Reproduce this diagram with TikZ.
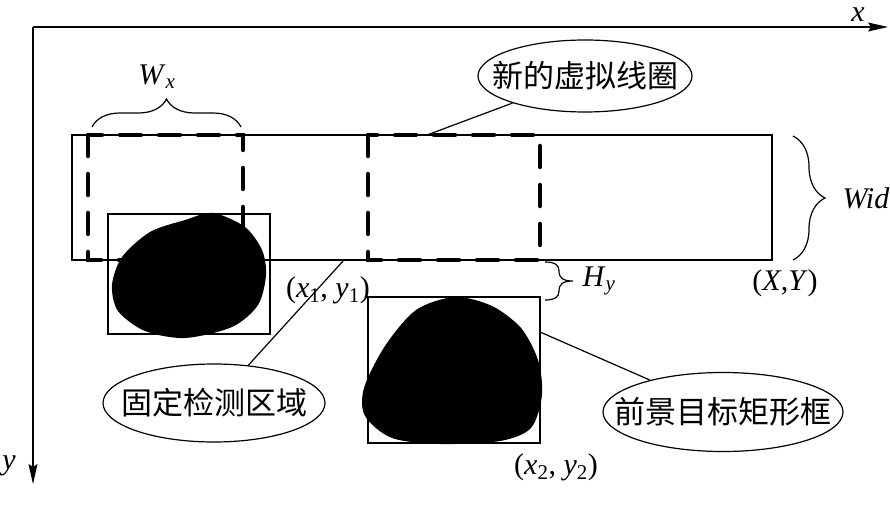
\documentclass[tikz,border=0pt]{standalone}
\usepackage{fontspec}
\setmainfont{Liberation Serif}
\newfontfamily\cjk{Noto Sans CJK SC}
\usetikzlibrary{arrows.meta,shapes.geometric,decorations.pathreplacing}
\tikzset{
    coil/.style={line width=4.5pt, line cap=round, dash pattern=on 21pt off 18pt},
    callout/.style={ellipse, draw, inner sep=0pt, minimum height=#1, font=\cjk\fontsize{31}{34}\selectfont},
    curly/.style={decorate, decoration={brace, amplitude=#1}},
    axis/.style={-{Stealth[length=20pt, width=9pt, inset=3pt]}}
}
\begin{document}
\begin{tikzpicture}[x=1pt, y=-1pt, line width=1.2pt, every node/.style={font=\fontsize{30}{34}\selectfont}]
        \useasboundingbox (0,0) rectangle (890,510);
        \coordinate (o) at (33,27);
        \draw[axis] (o) -- (888,27);
        \draw[axis] (o) -- (33,484);
        \node[inner sep=0pt] (x-lab) at (858,15) {\textit{x}};
        \node (y-lab) at (9,466) {\textit{y}};
        \draw (72,135) rectangle (772,260);
        \foreach \xa/\xb in {88/243, 368/540}
            \draw[coil] (\xa,135) rectangle (\xb,260);
        \draw (108,214) rectangle (270,334);
        \draw (368,297) rectangle (540,443);
        \fill plot[smooth cycle] coordinates {(213,213) (245,227) (262,250) (266,275) (258,305) (232,327) (185,338)
            (145,331) (118,311) (112,285) (122,257) (150,232) (185,220)};
        \fill plot[smooth cycle] coordinates {(455,297) (492,306) (521,328) (538,360) (542,395) (531,428) (500,441)
            (440,444) (392,438) (365,416) (364,388) (385,346) (416,310)};
        \draw[curly=28pt] (92,127) -- (241,127);
        \draw[curly=32pt] (793,136) -- (793,260);
        \draw (545,262) .. controls (555,262) and (559,265) .. (559,271) .. controls (559,278) and (563,281) .. (573,281)
            .. controls (563,281) and (559,284) .. (559,291) .. controls (559,297) and (555,300) .. (545,300);
        \node (wx-lab) at (157,77) {\textit{W}\textsubscript{\textit{x}}};
        \node (wid-lab) at (866,198) {\textit{Wid}};
        \node (hy-lab) at (599,281) {\textit{H}\textsubscript{\textit{y}}};
        \node (p1-lab) at (328,290) {(\textit{x}\textsubscript{1}, \textit{y}\textsubscript{1})};
        \node (pxy-lab) at (785,283) {(\textit{X},\textit{Y})};
        \node (p2-lab) at (556,467) {(\textit{x}\textsubscript{2}, \textit{y}\textsubscript{2})};
        \node[callout=72pt, minimum width=214pt] (coil-lab) at (585,76) {\makebox[0pt]{新的虚拟线圈}};
        \node[callout=78pt, minimum width=222pt] (fixed-lab) at (214,403) {\makebox[0pt]{固定检测区域}};
        \node[callout=79pt, minimum width=240pt] (fg-lab) at (723,412) {\makebox[0pt]{前景目标矩形框}};
        \coordinate (coil-pt) at (427,135);
        \coordinate (fixed-pt) at (344,260);
        \coordinate (fg-pt) at (540,332);
        \draw (coil-lab) -- (coil-pt);
        \draw (fixed-lab) -- (fixed-pt);
        \draw (fg-lab) -- (fg-pt);
    \end{tikzpicture}
\end{document}
